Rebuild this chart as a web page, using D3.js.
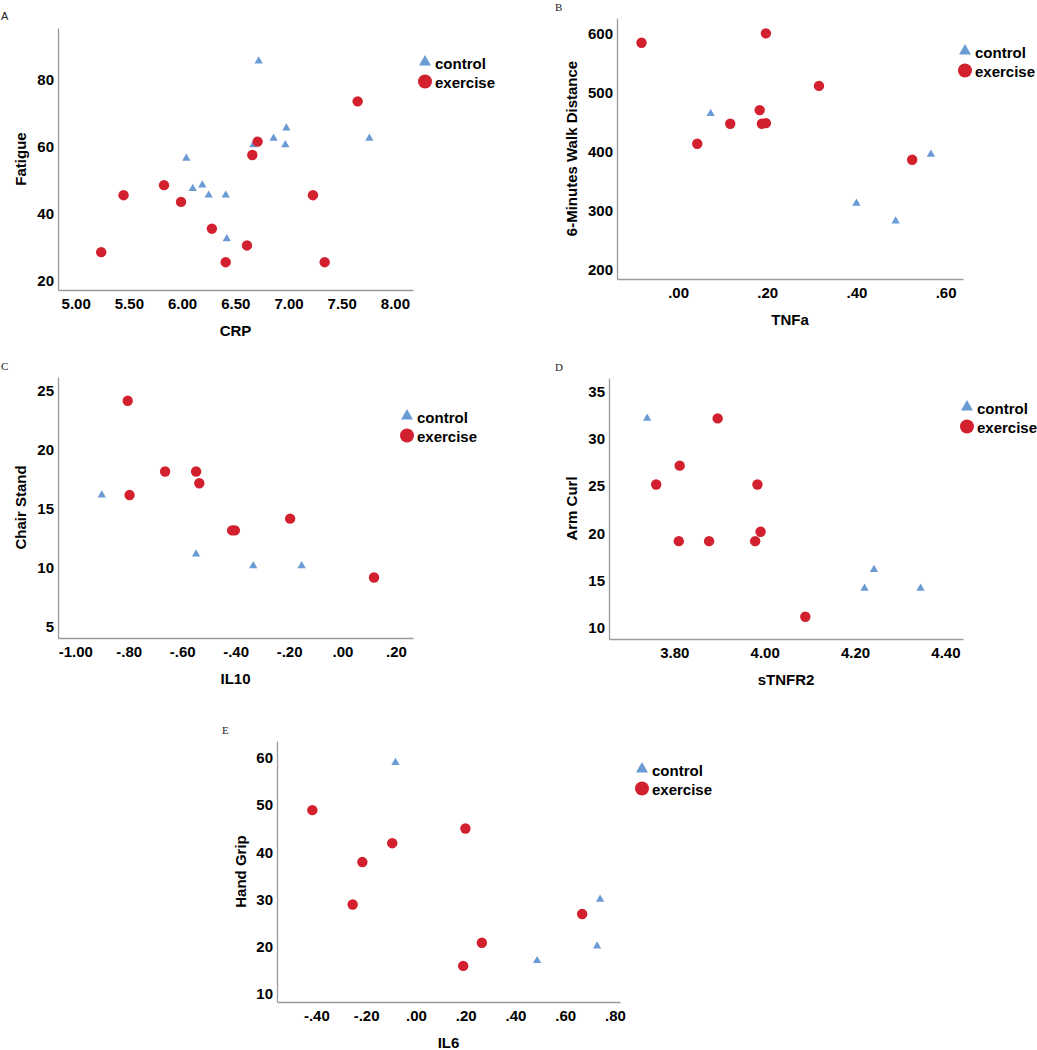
<!DOCTYPE html>
<html lang="en">

<head>
	<meta charset="utf-8">
	<title>Inflammation markers vs physical function</title>
	<style>
        body {
            margin: 0;
            background: #fff;
        }
        text {
            font-family: "Liberation Sans", Arial, sans-serif;
        }
        .tick text, .title, .legend text {
            font-size: 15px;
            font-weight: bold;
            fill: #000;
        }
        .domain {
            stroke: #9c9c9c;
            stroke-width: 1.3;
        }
        .control {
            fill: #6b9bd5;
        }
        .exercise {
            fill: #d2202e;
        }
	</style>
	<script src="https://cdn.jsdelivr.net/npm/d3@7"></script>
</head>

<body>
    <svg width="1037" height="1050"></svg>

	<script type="text/javascript">
        const groups = ["control", "exercise"];

        // A: CRP vs Fatigue
        const crpControl = [6.72, 6.04, 6.10, 6.19, 6.25, 6.41, 6.42, 6.67, 6.86, 6.98, 6.97, 7.76];
        const fatigueControl = [85, 56, 47, 48, 45, 45, 32, 60, 62, 65, 60, 62];
        const crpExercise = [5.24, 5.45, 5.83, 5.99, 6.28, 6.41, 6.61, 6.66, 6.71, 7.23, 7.34, 7.65];
        const fatigueExercise = [28, 45, 48, 43, 35, 25, 30, 57, 61, 45, 25, 73];
        const crpTicks = [5, 5.5, 6, 6.5, 7, 7.5, 8];
        const fatigueTicks = [20, 40, 60, 80];

        // B: TNFa vs 6-minutes walk distance
        const tnfaControl = [0.073, 0.40, 0.488, 0.567];
        const walkControl = [462, 310, 280, 393];
        const tnfaExercise = [-0.082, 0.043, 0.117, 0.183, 0.188, 0.197, 0.197, 0.316, 0.525];
        const walkExercise = [582, 411, 445, 468, 445, 446, 598, 509, 384];
        const tnfaTicks = [0, 0.2, 0.4, 0.6];
        const walkTicks = [200, 300, 400, 500, 600];

        // C: IL10 vs chair stand
        const il10Control = [-0.901, -0.548, -0.334, -0.153];
        const chairControl = [16, 11, 10, 10];
        const il10Exercise = [-0.804, -0.797, -0.664, -0.548, -0.536, -0.413, -0.403, -0.196, 0.118];
        const chairExercise = [24, 16, 18, 18, 17, 13, 13, 14, 9];
        const il10Ticks = [-1, -0.8, -0.6, -0.4, -0.2, 0, 0.2];
        const chairTicks = [5, 10, 15, 20, 25];

        // D: sTNFR2 vs arm curl
        const stnfr2Control = [3.74, 4.221, 4.242, 4.345];
        const armControl = [32, 14, 16, 14];
        const stnfr2Exercise = [3.76, 3.812, 3.81, 3.877, 3.896, 3.979, 3.984, 3.991, 4.09];
        const armExercise = [25, 27, 19, 19, 32, 19, 25, 20, 11];
        const stnfr2Ticks = [3.8, 4.0, 4.2, 4.4];
        const armTicks = [10, 15, 20, 25, 30, 35];

        // E: IL6 vs hand grip
        const il6Control = [-0.082, 0.487, 0.728, 0.74];
        const gripControl = [58.7, 16.7, 19.8, 29.7];
        const il6Exercise = [-0.416, -0.254, -0.215, -0.095, 0.19, 0.199, 0.265, 0.668];
        const gripExercise = [48.6, 28.6, 37.6, 41.6, 15.6, 44.7, 20.5, 26.6];
        const il6Ticks = [-0.4, -0.2, 0, 0.2, 0.4, 0.6, 0.8];
        const gripTicks = [10, 20, 30, 40, 50, 60];

        const fmt2 = v => v.toFixed(2);
        const fmtLead = v => v.toFixed(2).replace(/^(-?)0\./, "$1.");
        const fmtInt = v => String(v);

        const panels = [
            { letter: "A", serif: false, lx: 1, ly: 20,
              left: 58, right: 413, top: 28, bottom: 290,
              xDomain: [4.834, 8.17], yDomain: [16.7, 94.9],
              xTicks: crpTicks, yTicks: fatigueTicks, xFmt: fmt2, yFmt: fmtInt,
              xTitle: "CRP", yTitle: "Fatigue", yTitleX: 26, legend: [425, 61],
              series: [[crpControl, fatigueControl], [crpExercise, fatigueExercise]] },
            { letter: "B", serif: true, lx: 555, ly: 11,
              left: 617, right: 963, top: 18, bottom: 279,
              xDomain: [-0.137, 0.639], yDomain: [182, 624],
              xTicks: tnfaTicks, yTicks: walkTicks, xFmt: fmtLead, yFmt: fmtInt,
              xTitle: "TNFa", yTitle: "6-Minutes Walk Distance", yTitleX: 577, legend: [965, 50],
              series: [[tnfaControl, walkControl], [tnfaExercise, walkExercise]] },
            { letter: "C", serif: true, lx: 1, ly: 370,
              left: 58, right: 413, top: 377, bottom: 638,
              xDomain: [-1.065, 0.264], yDomain: [3.87, 26.02],
              xTicks: il10Ticks, yTicks: chairTicks, xFmt: fmtLead, yFmt: fmtInt,
              xTitle: "IL10", yTitle: "Chair Stand", yTitleX: 26, legend: [407, 415],
              series: [[il10Control, chairControl], [il10Exercise, chairExercise]] },
            { letter: "D", serif: true, lx: 555, ly: 371,
              left: 609, right: 963, top: 378, bottom: 639,
              xDomain: [3.6555, 4.439], yDomain: [8.64, 36.28],
              xTicks: stnfr2Ticks, yTicks: armTicks, xFmt: fmt2, yFmt: fmtInt,
              xTitle: "sTNFR2", yTitle: "Arm Curl", yTitleX: 577, legend: [967, 406],
              series: [[stnfr2Control, armControl], [stnfr2Exercise, armExercise]] },
            { letter: "E", serif: true, lx: 222, ly: 734,
              left: 277, right: 620, top: 741, bottom: 1002,
              xDomain: [-0.558, 0.82], yDomain: [7.95, 63.25],
              xTicks: il6Ticks, yTicks: gripTicks, xFmt: fmtLead, yFmt: fmtInt,
              xTitle: "IL6", yTitle: "Hand Grip", yTitleX: 246, legend: [642, 768],
              series: [[il6Control, gripControl], [il6Exercise, gripExercise]] }
        ];

        const svg = d3.select("svg");
        const tri = d3.symbol().type(d3.symbolTriangle);

        panels.forEach(p => {
            const g = svg.append("g");
            const x = d3.scaleLinear().domain(p.xDomain).range([p.left, p.right]);
            const y = d3.scaleLinear().domain(p.yDomain).range([p.bottom, p.top]);

            g.append("text")
                .attr("x", p.lx).attr("y", p.ly)
                .style("font-family", p.serif ? "'Liberation Serif', serif" : "'Liberation Sans', sans-serif")
                .style("font-size", "11px")
                .style("fill", "#222")
                .text(p.letter);

            // axes
            g.append("g")
                .attr("transform", "translate(0," + p.bottom + ")")
                .call(d3.axisBottom(x).tickValues(p.xTicks).tickFormat(p.xFmt).tickSize(0))
                .call(a => a.selectAll(".tick text").attr("y", 14).attr("dy", "0.36em"));
            g.append("g")
                .attr("transform", "translate(" + p.left + ",0)")
                .call(d3.axisLeft(y).tickValues(p.yTicks).tickFormat(p.yFmt).tickSize(0))
                .call(a => a.selectAll(".tick text").attr("x", -4).attr("dy", "0.43em"));
            g.selectAll(".domain").attr("stroke", null);

            g.append("text")
                .attr("class", "title")
                .attr("text-anchor", "middle")
                .attr("x", (p.left + p.right) / 2)
                .attr("y", p.bottom + 46)
                .text(p.xTitle);
            g.append("text")
                .attr("class", "title")
                .attr("text-anchor", "middle")
                .attr("transform", "translate(" + p.yTitleX + "," + (p.top + p.bottom) / 2 + ") rotate(-90)")
                .text(p.yTitle);

            // marks: control triangles, exercise circles on top
            const [cx, cy] = p.series[0];
            g.append("g").selectAll("path")
                .data(cx.map((v, i) => [v, cy[i]]))
                .join("path")
                .attr("class", "control")
                .attr("d", tri.size(30)())
                .attr("transform", d => "translate(" + x(d[0]) + "," + y(d[1]) + ")");

            const [ex, ey] = p.series[1];
            g.append("g").selectAll("circle")
                .data(ex.map((v, i) => [v, ey[i]]))
                .join("circle")
                .attr("class", "exercise")
                .attr("r", 5.2)
                .attr("cx", d => x(d[0]))
                .attr("cy", d => y(d[1]));

            // legend
            const [lx, ly] = p.legend;
            const lg = g.append("g").attr("class", "legend");
            lg.append("path")
                .attr("class", "control")
                .attr("d", tri.size(62)())
                .attr("transform", "translate(" + lx + "," + (ly + 1) + ")");
            lg.append("circle")
                .attr("class", "exercise")
                .attr("r", 7)
                .attr("cx", lx)
                .attr("cy", ly + 20.5);
            lg.selectAll("text")
                .data(groups)
                .join("text")
                .attr("x", lx + 10)
                .attr("y", (d, i) => ly + 7.5 + i * 19.5)
                .text(d => d);
        });
    </script>
</body>

</html>
